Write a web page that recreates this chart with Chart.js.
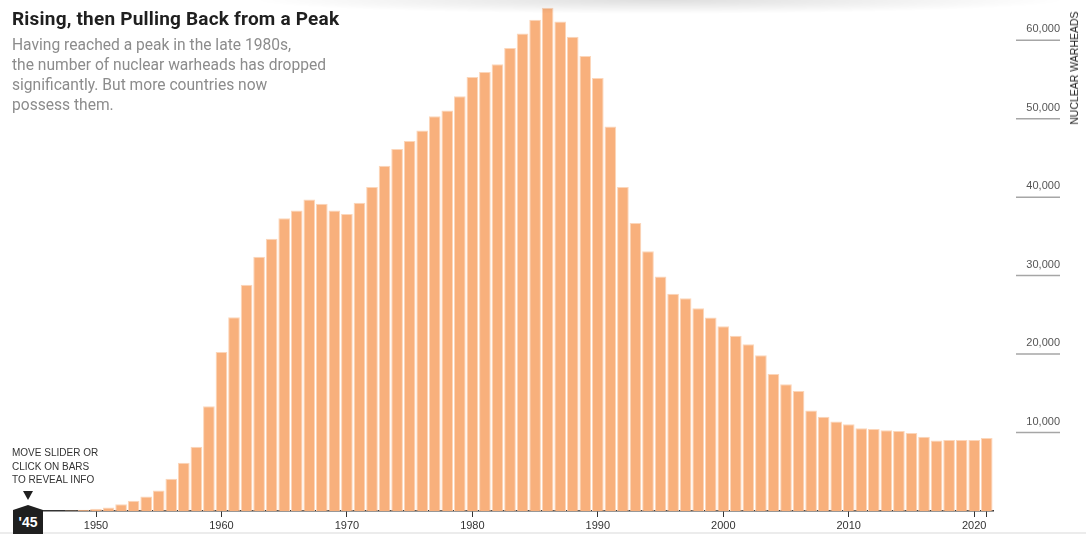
<!DOCTYPE html>
<html lang="en">
<head>
    <meta charset="UTF-8">
    <title>Nuclear warheads</title>
    <script src="https://cdn.jsdelivr.net/npm/chart.js/dist/chart.umd.min.js"></script>
    <style>
        body {
            margin: 0;
            padding: 0;
            background: #fff;
            overflow: hidden;
        }

        .wrap {
            position: relative;
            width: 1086px;
            height: 534px;
        }

        #chart-box {
            position: absolute;
            left: 0;
            top: 0;
            width: 1086px;
            height: 534px;
        }

        .shade {
            position: absolute;
            left: 250px;
            top: 0;
            width: 820px;
            height: 14px;
            background: radial-gradient(ellipse at top, rgba(0, 0, 0, 0.13), rgba(0, 0, 0, 0) 70%);
        }

        h1 {
            position: absolute;
            left: 12px;
            top: 7px;
            margin: 0;
            font: bold 19px Roboto, sans-serif;
            color: #1f1f1f;
            letter-spacing: 0.2px;
        }

        .dek {
            position: absolute;
            left: 12px;
            top: 35px;
            margin: 0;
            font: 15.6px Roboto, sans-serif;
            line-height: 20px;
            color: #8c8c8c;
        }

        .hint {
            position: absolute;
            left: 12px;
            top: 446px;
            font: 10px "Liberation Sans", Arial, sans-serif;
            line-height: 13.5px;
            color: #333;
        }

        .arrow {
            position: absolute;
            left: 23px;
            top: 491px;
            width: 0;
            height: 0;
            border-left: 5.5px solid transparent;
            border-right: 5.5px solid transparent;
            border-top: 9px solid #1f1f1f;
        }

        .marker {
            position: absolute;
            left: 13px;
            top: 505px;
            width: 30px;
            height: 29px;
            background: #1f1f1f;
            clip-path: polygon(50% 0, 100% 17%, 100% 100%, 0 100%, 0 17%);
            color: #fff;
            font: bold 14px "Liberation Sans", Arial, sans-serif;
            text-align: center;
            line-height: 34px;
        }

        .ytitle {
            position: absolute;
            left: 1074px;
            top: 68px;
            transform: translate(-50%, -50%) rotate(-90deg);
            font: 10.5px "Liberation Sans", Arial, sans-serif;
            color: #222;
            white-space: nowrap;
        }

        .footline {
            position: absolute;
            left: 0;
            top: 532px;
            width: 1086px;
            height: 2px;
            background: #ececec;
        }
    </style>
</head>
<body>
  <div class="wrap">
    <div class="footline"></div>
    <div id="chart-box">
        <canvas id="warheadChart"></canvas>
    </div>
    <div class="shade"></div>
    <h1>Rising, then Pulling Back from a Peak</h1>
    <p class="dek">Having reached a peak in the late 1980s,<br>the number of nuclear warheads has dropped<br>significantly. But more countries now<br>possess them.</p>
    <div class="hint">MOVE SLIDER OR<br>CLICK ON BARS<br>TO REVEAL INFO</div>
    <div class="arrow"></div>
    <div class="marker">'45</div>
    <div class="ytitle">NUCLEAR WARHEADS</div>
  </div>

  <script>
    // data
    const years = [
      1945, 1946, 1947, 1948, 1949, 1950, 1951, 1952, 1953, 1954,
      1955, 1956, 1957, 1958, 1959, 1960, 1961, 1962, 1963, 1964,
      1965, 1966, 1967, 1968, 1969, 1970, 1971, 1972, 1973, 1974,
      1975, 1976, 1977, 1978, 1979, 1980, 1981, 1982, 1983, 1984,
      1985, 1986, 1987, 1988, 1989, 1990, 1991, 1992, 1993, 1994,
      1995, 1996, 1997, 1998, 1999, 2000, 2001, 2002, 2003, 2004,
      2005, 2006, 2007, 2008, 2009, 2010, 2011, 2012, 2013, 2014,
      2015, 2016, 2017, 2018, 2019, 2020, 2021
    ];

    const warheads = [
      2, 9, 13, 50, 170, 300, 450, 860, 1300, 1850,
      2600, 4100, 6150, 8200, 13350, 20250, 24700, 28850, 32400, 34700,
      37300, 38300, 39700, 39150, 38300, 37850, 39300, 41300, 44000, 46150,
      47150, 48500, 50300, 51050, 52850, 55300, 55950, 56950, 59000, 60850,
      62600, 64150, 62400, 60450, 58000, 55200, 49000, 41300, 36700, 33100,
      29900, 27700, 27100, 25850, 24650, 23550, 22350, 21250, 19850, 17450,
      16150, 15300, 12800, 12000, 11400, 11050, 10550, 10450, 10300, 10200,
      9950, 9450, 9000, 9050, 9050, 9050, 9300
    ];

    const yearLabels = [1950, 1960, 1970, 1980, 1990, 2000, 2010, 2020];
    const tickYears = [1950, 1960, 1970, 1980, 1990, 2000, 2010, 2020, 2021];
    const valueLabels = [10000, 20000, 30000, 40000, 50000, 60000];

    // right side labels with the short rule under each one
    const rightLabels = {
      id: 'rightLabels',
      afterDraw(chart) {
        const { ctx, scales: { y } } = chart;
        ctx.save();
        valueLabels.forEach(v => {
          const py = y.getPixelForValue(v);
          ctx.strokeStyle = '#a6a6a6';
          ctx.lineWidth = 1.5;
          ctx.beginPath();
          ctx.moveTo(1016, py);
          ctx.lineTo(1060, py);
          ctx.stroke();

          ctx.font = '11px "Liberation Sans", Arial, sans-serif';
          ctx.fillStyle = '#555';
          ctx.textAlign = 'right';
          ctx.textBaseline = 'middle';
          ctx.fillText(v.toLocaleString('en-US'), 1060, py - 11);
        });
        ctx.restore();
      }
    };

    const config = {
      type: 'bar',
      data: {
        labels: years,
        datasets: [{
          data: warheads,
          backgroundColor: '#f8b07c',
          borderColor: '#fcd6ba',
          borderWidth: 1,
          barPercentage: 0.93,
          categoryPercentage: 1
        }]
      },
      options: {
        responsive: true,
        maintainAspectRatio: false,
        animation: false,
        events: [],
        layout: {
          padding: { left: 27, top: 1, right: 0, bottom: 0 }
        },
        plugins: {
          legend: { display: false },
          tooltip: { enabled: false }
        },
        scales: {
          x: {
            type: 'category',
            offset: true,
            afterFit(scale) { scale.height = 23; },
            grid: {
              offset: false,
              drawOnChartArea: false,
              drawTicks: true,
              tickLength: 6,
              color: (c) => tickYears.includes(years[c.index]) ? '#333' : 'rgba(0,0,0,0)'
            },
            border: { display: true, color: '#333', width: 1.5 },
            ticks: {
              autoSkip: false,
              maxRotation: 0,
              padding: 2,
              color: '#333',
              font: { family: '"Liberation Sans", Arial, sans-serif', size: 11 },
              callback: function (val, i) {
                return yearLabels.includes(years[i]) ? String(years[i]) : '';
              }
            }
          },
          y: {
            position: 'right',
            min: 0,
            max: 65000,
            afterFit(scale) { scale.width = 93; },
            grid: { display: false },
            border: { display: false },
            ticks: { display: false, stepSize: 10000 }
          }
        }
      },
      plugins: [rightLabels]
    };

    const myChart = new Chart(document.getElementById('warheadChart'), config);
  </script>
</body>
</html>
